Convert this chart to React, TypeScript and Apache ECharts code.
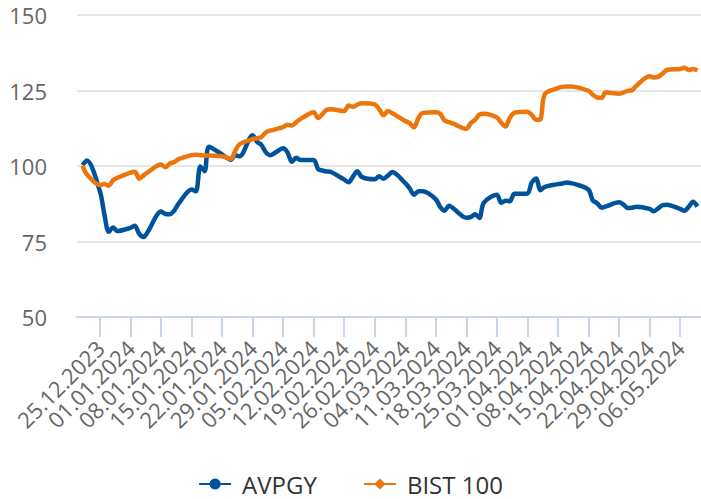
import React, { useEffect, useRef } from "react";
import * as echarts from "echarts";

const dates = [
  "2023-12-21","2023-12-22","2023-12-25","2023-12-26","2023-12-27","2023-12-28","2023-12-29",
  "2024-01-01","2024-01-02","2024-01-03","2024-01-04","2024-01-05",
  "2024-01-08","2024-01-09","2024-01-10","2024-01-11","2024-01-12",
  "2024-01-15","2024-01-16","2024-01-17","2024-01-18","2024-01-19",
  "2024-01-22","2024-01-23","2024-01-24","2024-01-25","2024-01-26",
  "2024-01-29","2024-01-30","2024-01-31","2024-02-01","2024-02-02",
  "2024-02-05","2024-02-06","2024-02-07","2024-02-08","2024-02-09",
  "2024-02-12","2024-02-13","2024-02-14","2024-02-15","2024-02-16",
  "2024-02-19","2024-02-20","2024-02-21","2024-02-22","2024-02-23",
  "2024-02-26","2024-02-27","2024-02-28","2024-02-29","2024-03-01",
  "2024-03-04","2024-03-05","2024-03-06","2024-03-07","2024-03-08",
  "2024-03-11","2024-03-12","2024-03-13","2024-03-14","2024-03-15",
  "2024-03-18","2024-03-19","2024-03-20","2024-03-21","2024-03-22",
  "2024-03-25","2024-03-26","2024-03-27","2024-03-28","2024-03-29",
  "2024-04-01","2024-04-02","2024-04-03","2024-04-04","2024-04-05",
  "2024-04-08","2024-04-09","2024-04-10","2024-04-11","2024-04-12",
  "2024-04-15","2024-04-16","2024-04-17","2024-04-18","2024-04-19",
  "2024-04-22","2024-04-23","2024-04-24","2024-04-25","2024-04-26",
  "2024-04-29","2024-04-30","2024-05-01","2024-05-02","2024-05-03",
  "2024-05-06","2024-05-07","2024-05-08","2024-05-09","2024-05-10",
];

const avpgy = [
  100.3, 101.8, 91.5, 84.0, 78.2, 79.6, 78.5,
  79.5, 80.2, 77.5, 76.5, 78.3,
  84.9, 84.1, 84.0, 85.2, 87.5,
  92.2, 91.6, 99.8, 98.3, 106.4,
  103.8, 102.8, 102.0, 103.6, 103.2,
  110.2, 108.0, 107.0, 104.6, 103.6,
  105.9, 104.5, 101.4, 102.7, 102.0,
  102.0, 99.0, 98.5, 98.2, 98.0,
  95.5, 94.6, 96.5, 98.3, 96.4,
  95.6, 96.6, 95.8, 96.8, 98.0,
  94.3, 92.6, 90.5, 91.6, 91.6,
  89.0, 86.5, 85.2, 86.8, 86.0,
  82.9, 83.1, 84.0, 82.8, 87.8,
  90.5, 87.8, 88.5, 88.3, 90.8,
  90.9, 94.5, 95.9, 92.0, 93.1,
  94.0, 94.2, 94.5, 94.3, 94.0,
  92.2, 88.6, 87.7, 86.2, 86.6,
  88.0, 87.3, 86.1, 86.2, 86.5,
  85.8, 85.0, 86.0, 87.0, 87.2,
  85.8, 85.2, 86.5, 88.2, 86.6,
];

const bist100 = [
  100.1, 97.2, 93.7, 94.0, 93.5, 95.3, 96.1,
  97.8, 98.1, 95.8, 96.9, 98.0,
  100.5, 99.6, 100.8, 101.3, 102.3,
  103.6, 103.7, 103.6, 103.5, 103.5,
  103.2, 102.8, 102.3, 105.0, 107.2,
  108.9, 109.2, 109.6, 111.1, 111.7,
  112.9, 113.7, 113.4, 114.5, 115.6,
  117.8, 115.9, 117.2, 118.6, 118.8,
  118.2, 120.0, 119.6, 120.3, 120.8,
  120.4, 118.8, 116.8, 118.2, 117.5,
  114.9, 114.2, 112.8, 115.8, 117.6,
  117.8, 117.3, 115.1, 114.5, 114.0,
  112.3, 114.2, 115.3, 117.0, 117.3,
  116.1, 114.3, 113.1, 116.0, 117.6,
  118.0, 116.9, 115.3, 115.5, 123.8,
  125.8, 126.2, 126.3, 126.3, 126.2,
  124.9, 123.6, 122.7, 122.6, 124.4,
  123.9, 124.3, 124.9, 125.1, 126.6,
  129.7, 129.3, 129.5, 130.6, 131.8,
  132.1, 132.5, 131.8, 132.1, 131.6,
];

const tickDates = [
  "2023-12-25","2024-01-01","2024-01-08","2024-01-15","2024-01-22",
  "2024-01-29","2024-02-05","2024-02-12","2024-02-19","2024-02-26",
  "2024-03-04","2024-03-11","2024-03-18","2024-03-25","2024-04-01",
  "2024-04-08","2024-04-15","2024-04-22","2024-04-29","2024-05-06",
];

const seriesNames = ["AVPGY", "BIST 100"];
const colors = ["#00539b", "#ec760c"];
const axisMin = "2023-12-19T17:25:00Z";
const axisMax = "2024-05-10T19:30:00Z";

const DAY = 86400000;
const toDays = (s: string) => new Date(s).getTime() / DAY;
const pad = (n: number) => (n < 10 ? "0" + n : "" + n);
const fmt = (v: number) => {
  const d = new Date(Math.round(v) * DAY);
  return pad(d.getUTCDate()) + "." + pad(d.getUTCMonth() + 1) + "." + d.getUTCFullYear();
};

export default function App() {
  const ref = useRef<HTMLDivElement>(null);
  useEffect(() => {
    if (!ref.current) return;
    const chart = echarts.init(ref.current, undefined, { renderer: "svg" });
    const base = tickDates.map(toDays);
    const ticks = [base[0], ...base, base[base.length - 1]];
    const font = "'Open Sans', sans-serif";
    chart.setOption({
      animation: false,
      grid: { left: 77, right: 0, top: 15, bottom: 182 },
      legend: {
        top: 464,
        left: "center",
        itemWidth: 32,
        itemHeight: 14,
        itemGap: 46,
        textStyle: { fontFamily: font, fontSize: 24, color: "#333333", lineHeight: 30, padding: [0, 0, 0, 6] },
        data: seriesNames,
      },
      xAxis: {
        type: "value",
        min: toDays(axisMin),
        max: toDays(axisMax),
        axisLine: { lineStyle: { color: "#ccd6eb", width: 2 } },
        axisTick: { show: true, length: 20, lineStyle: { color: "#ccd6eb", width: 2 }, customValues: ticks },
        axisLabel: {
          customValues: ticks,
          showMinLabel: true,
          showMaxLabel: true,
          rotate: 45,
          margin: 27,
          fontFamily: font,
          fontSize: 22,
          color: "#666666",
          formatter: (v: number) => fmt(v),
        },
        splitLine: { show: false },
      },
      yAxis: {
        type: "value",
        min: 50,
        max: 150,
        interval: 25,
        axisLine: { show: false },
        axisTick: { show: false },
        axisLabel: { fontFamily: font, fontSize: 22, color: "#666666", margin: 30 },
        splitLine: { lineStyle: { color: "#e6e6e6", width: 2 } },
      },
      series: [
        {
          name: seriesNames[0],
          type: "line",
          data: dates.map((d, i) => [toDays(d), avpgy[i]]),
          color: colors[0],
          symbol: "circle",
          symbolSize: 12,
          showSymbol: false,
          smooth: 0.3,
          lineStyle: { width: 4.5 },
        },
        {
          name: seriesNames[1],
          type: "line",
          data: dates.map((d, i) => [toDays(d), bist100[i]]),
          color: colors[1],
          symbol: "diamond",
          symbolSize: 14,
          showSymbol: false,
          smooth: 0.3,
          lineStyle: { width: 4.5 },
        },
      ],
    });
    return () => chart.dispose();
  }, []);
  return <div ref={ref} style={{ width: 701, height: 499, position: "absolute", left: 0, top: 0 }} />;
}
